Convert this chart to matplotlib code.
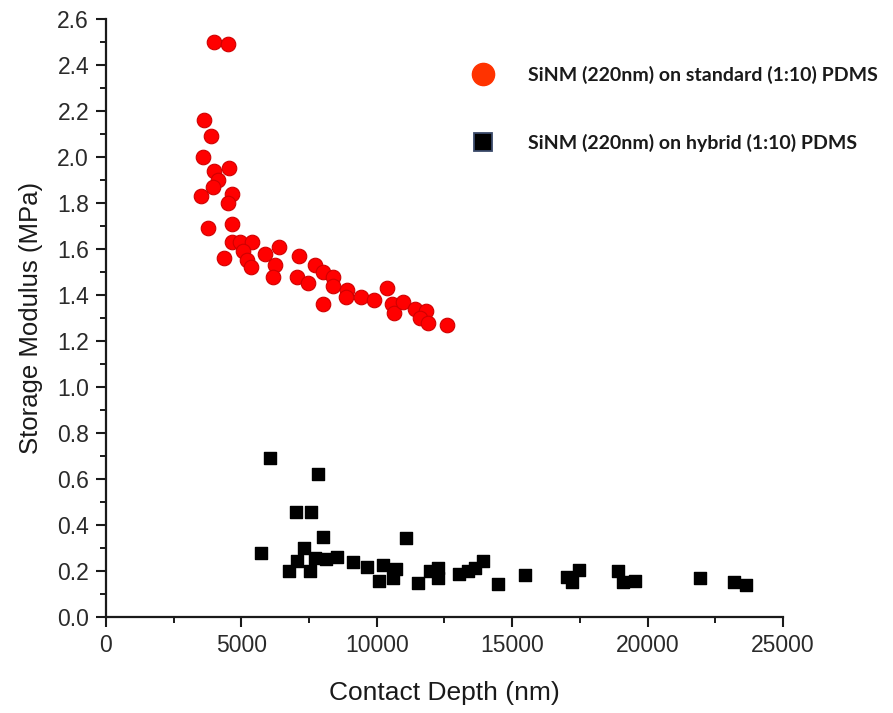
import matplotlib
matplotlib.use('Agg')
import matplotlib.pyplot as plt
from matplotlib.lines import Line2D
from matplotlib.ticker import MultipleLocator, FormatStrFormatter

# SiNM (220nm) on standard (1:10) PDMS
std_depth = [4000, 4490, 3620, 3880, 3590, 3990, 4540, 4150, 3940, 3510,
             4670, 4520, 3750, 4670, 4640, 4950, 5400, 4370, 5070, 5190,
             5350, 5890, 6400, 6240, 6150, 7140, 7060, 7450, 7720, 8020,
             8400, 8370, 8020, 8890, 8850, 9420, 9910, 10360, 10550, 10650,
             10980, 11410, 11820, 11600, 11900, 12610]
std_mod = [2.50, 2.49, 2.16, 2.09, 2.00, 1.94, 1.95, 1.90, 1.87, 1.83,
           1.84, 1.80, 1.69, 1.71, 1.63, 1.63, 1.63, 1.56, 1.59, 1.55,
           1.52, 1.58, 1.61, 1.53, 1.48, 1.57, 1.48, 1.45, 1.53, 1.50,
           1.48, 1.44, 1.36, 1.42, 1.39, 1.39, 1.38, 1.43, 1.36, 1.32,
           1.37, 1.34, 1.33, 1.30, 1.28, 1.27]

# SiNM (220nm) on hybrid (1:10) PDMS
hyb_depth = [6060, 7840, 7020, 7560, 8000, 11070, 5720, 7310, 7040, 6770,
             7530, 7720, 8120, 8550, 9130, 9650, 10240, 10090, 10700, 10610,
             11530, 11960, 12270, 12270, 13050, 13380, 13630, 13930, 14460, 15470,
             17010, 17480, 17200, 18920, 19100, 19530, 21930, 23200, 23630]
hyb_mod = [0.693, 0.623, 0.455, 0.458, 0.346, 0.345, 0.280, 0.299, 0.243, 0.201,
           0.201, 0.255, 0.252, 0.262, 0.238, 0.219, 0.226, 0.157, 0.207, 0.168,
           0.146, 0.200, 0.212, 0.168, 0.186, 0.200, 0.212, 0.243, 0.142, 0.183,
           0.175, 0.204, 0.154, 0.201, 0.154, 0.157, 0.171, 0.151, 0.139]

labels = ['SiNM (220nm) on standard (1:10) PDMS', 'SiNM (220nm) on hybrid (1:10) PDMS']

fig = plt.figure(figsize=(8.93, 7.13), dpi=100)
ax = fig.add_axes([0.1187, 0.1346, 0.758, 0.8388])

ax.scatter(std_depth, std_mod, s=110, c='#ff0000', edgecolors='#d00000', linewidths=0.8, zorder=3)
ax.scatter(hyb_depth, hyb_mod, s=78, marker='s', c='#000000', edgecolors='#000000', zorder=3)

ax.set_xlim(0, 25000)
ax.set_ylim(0, 2.6)
ax.xaxis.set_major_locator(MultipleLocator(5000))
ax.xaxis.set_minor_locator(MultipleLocator(2500))
ax.yaxis.set_major_locator(MultipleLocator(0.2))
ax.yaxis.set_minor_locator(MultipleLocator(0.1))
ax.yaxis.set_major_formatter(FormatStrFormatter('%.1f'))
for s in ['top', 'right']:
    ax.spines[s].set_visible(False)
for s in ['left', 'bottom']:
    ax.spines[s].set_linewidth(1.6)
    ax.spines[s].set_color('#1a1a1a')
ax.tick_params(which='major', direction='out', length=7.2, width=1.5, pad=5,
               color='#1a1a1a', labelcolor='#2a2a2a', labelsize=16.5,
               labelfontfamily='Liberation Sans')
ax.tick_params(which='minor', direction='out', length=4.3, width=1.4, color='#1a1a1a')

ax.set_xlabel('Contact Depth (nm)', fontsize=19, family='Liberation Sans', color='#1a1a1a', labelpad=17)
ax.set_ylabel('Storage Modulus (MPa)', fontsize=18.5, family='Liberation Sans', color='#1a1a1a', labelpad=10)

handles = [
    Line2D([], [], ls='none', marker='o', ms=16, mfc='#ff3300', mec='#ff3300'),
    Line2D([], [], ls='none', marker='s', ms=13, mfc='#000000', mec='#3a4a6a', mew=1.3),
]
leg = fig.legend(handles, labels, loc='upper left', bbox_to_anchor=(0.4995, 0.9317),
                 frameon=False, labelspacing=2.55, handletextpad=1.32,
                 prop={'family': 'Lato', 'weight': 'bold', 'size': 14})
for t in leg.get_texts():
    t.set_color('#1a1a1a')

fig.savefig('out.png', dpi=100)
